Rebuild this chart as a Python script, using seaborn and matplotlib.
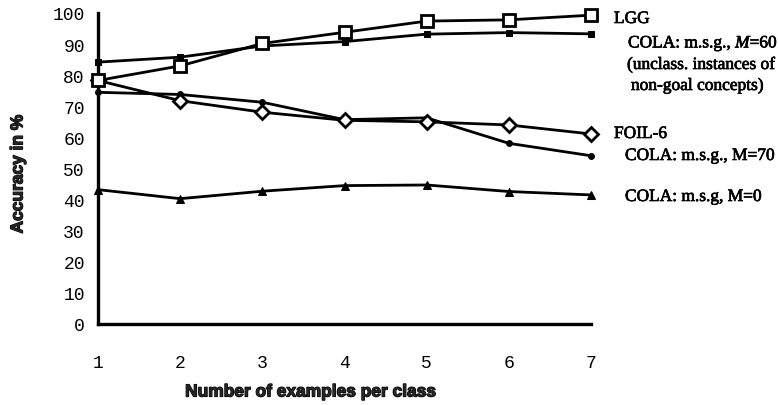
import matplotlib
matplotlib.use("Agg")
import matplotlib.pyplot as plt
import matplotlib.patheffects as pe
import seaborn as sns

# Examples per class
examples = [1, 2, 3, 4, 5, 6, 7]

# Accuracy (%) per learner
lgg = [78.3, 83.0, 90.2, 93.8, 97.4, 97.8, 99.3]
cola_m60 = [84.2, 85.8, 89.4, 90.8, 93.2, 93.7, 93.3]
foil6 = [78.3, 71.8, 68.1, 65.5, 65.0, 64.0, 61.1]
cola_m70 = [74.5, 73.8, 71.3, 65.7, 66.3, 58.1, 54.1]
cola_m0 = [43.2, 40.3, 42.7, 44.5, 44.7, 42.6, 41.5]

y_ticks = [0, 10, 20, 30, 40, 50, 60, 70, 80, 90, 100]

sns.set_theme(style="white")
plt.rcParams["font.family"] = ["DejaVu Sans"]
plt.rcParams["mathtext.fontset"] = "custom"
plt.rcParams["mathtext.rm"] = "Liberation Serif"
plt.rcParams["mathtext.it"] = "Liberation Serif:italic"

fig = plt.figure(figsize=(7.78, 4.06), dpi=100)
ax = fig.add_axes([98 / 778, 1 - 325 / 406, (591 - 98) / 778, (325 - 14) / 406])

line_kw = dict(color="black", linewidth=2.0, markeredgecolor="black", clip_on=False)

sns.lineplot(x=examples, y=cola_m0, marker="^", markersize=5.5,
             markerfacecolor="black", ax=ax, zorder=3, **line_kw)
sns.lineplot(x=examples, y=cola_m70, marker="o", markersize=4.2,
             markerfacecolor="black", ax=ax, zorder=3, **line_kw)
sns.lineplot(x=examples, y=cola_m60, marker="s", markersize=4.2,
             markerfacecolor="black", ax=ax, zorder=3, **line_kw)
sns.lineplot(x=examples, y=foil6, marker="D", markersize=7.5,
             markerfacecolor="white", markeredgewidth=2.0, ax=ax, zorder=4, **line_kw)
sns.lineplot(x=examples, y=lgg, marker="s", markersize=8,
             markerfacecolor="white", markeredgewidth=2.0, ax=ax, zorder=5, **line_kw)

ax.set_xlim(1, 7)
ax.set_ylim(0, 100)
ax.set_xticks(examples)
ax.set_yticks(y_ticks)
ax.set_xticklabels([str(v) for v in examples])
ax.set_yticklabels([str(v) for v in y_ticks])

for side in ("top", "right"):
    ax.spines[side].set_visible(False)
for side in ("left", "bottom"):
    ax.spines[side].set_linewidth(2.4)
    ax.spines[side].set_color("black")

ax.tick_params(axis="both", direction="inout", length=9, width=1.9, color="black")
ax.tick_params(axis="y", pad=5)
ax.tick_params(axis="x", pad=17)
for lab in ax.get_xticklabels() + ax.get_yticklabels():
    lab.set_fontfamily("Liberation Mono")
    lab.set_fontsize(13)
    lab.set_color("black")

ax.set_xlabel("")
ax.set_ylabel("")
heavy = [pe.withStroke(linewidth=0.9, foreground="black")]
fig.text(311 / 778, 1 - 393 / 406, "Number of examples per class",
         ha="center", va="center", fontsize=12.5, fontweight="heavy",
         family="Liberation Sans", path_effects=heavy)
fig.text(18 / 778, 1 - 175 / 406, "Accuracy in %", rotation=90,
         ha="center", va="center", fontsize=12.5, fontweight="heavy",
         family="Liberation Sans", path_effects=heavy)

serif_fx = [pe.withStroke(linewidth=0.5, foreground="black")]
serif = dict(family="Liberation Serif", fontsize=12.5, va="center", ha="left",
             color="black", path_effects=serif_fx)
fig.text(614 / 778, 1 - 20 / 406, "LGG", **serif)
fig.text(628 / 778, 1 - 45 / 406, "COLA: m.s.g., $\\mathit{M}$=60", **serif)
fig.text(627 / 778, 1 - 66 / 406, "(unclass. instances of", **serif)
fig.text(631 / 778, 1 - 87 / 406, "non-goal concepts)", **serif)
fig.text(614 / 778, 1 - 135 / 406, "FOIL-6", **serif)
fig.text(625 / 778, 1 - 157 / 406, "COLA: m.s.g., M=70", **serif)
fig.text(625 / 778, 1 - 198 / 406, "COLA: m.s.g, M=0", **serif)

fig.savefig("out.png", dpi=100)
